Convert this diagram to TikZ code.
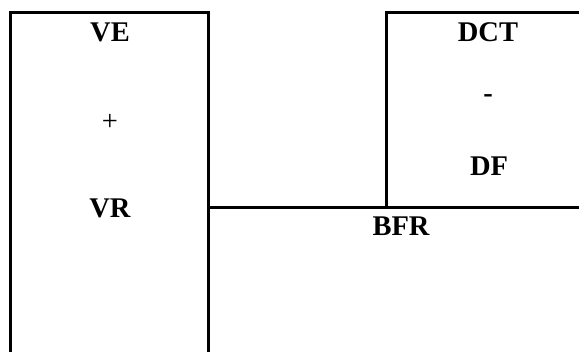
\documentclass[tikz,border=0pt]{standalone}
\usepackage{fontspec}
\setmainfont{Liberation Serif}
\usetikzlibrary{positioning}
\tikzset{
  every node/.style={font=\fontsize{28.5}{34}\selectfont\bfseries,text=black,inner sep=0pt},
  plain/.style={font=\fontsize{28.5}{34}\selectfont},
  frame/.style={draw=black,line width=2.6pt,line cap=rect},
}

\begin{document}
\begin{tikzpicture}[x=1pt,y=-1pt]
  \useasboundingbox (0,0) rectangle (579,352);
  \clip (0,0) rectangle (579,352);
  % left block
  \draw[frame] (10.7,360) -- (10.7,12.7) -- (208.5,12.7) -- (208.5,360);
  % right block and split line
  \draw[frame] (600,12.7) -- (386.7,12.7) -- (386.7,207.8);
  \draw[frame] (208.5,207.8) -- (600,207.8);

  \node (ve) at (110,32) {VE};
  \node[plain] (plus) at (110,122) {+};
  \node (vr) at (110,208) {VR};
  \node (dct) at (488,32) {DCT};
  \node (minus) at (488,99) {-};
  \node (df) at (489,166) {DF};
  \node (bfr) at (401,226) {BFR};
\end{tikzpicture}
\end{document}
